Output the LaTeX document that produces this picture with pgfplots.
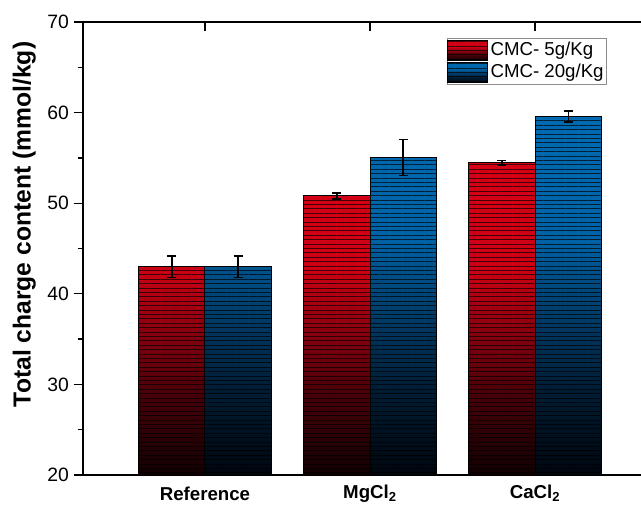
\documentclass[border=0pt]{standalone}
\usepackage{fontspec}
\setmainfont{Liberation Sans}
\usepackage{pgfplots}
\pgfplotsset{compat=1.18}
\usetikzlibrary{patterns.meta}
\definecolor{rb0}{RGB}{18,0,2}
\definecolor{rb1}{RGB}{70,0,8}
\definecolor{rb2}{RGB}{150,0,15}
\definecolor{rb3}{RGB}{205,0,20}
\definecolor{rtop}{RGB}{214,0,22}
\definecolor{bb0}{RGB}{0,6,14}
\definecolor{bb1}{RGB}{0,30,55}
\definecolor{bb2}{RGB}{0,68,118}
\definecolor{bb3}{RGB}{0,98,166}
\definecolor{btop}{RGB}{0,106,178}
\pgfdeclareverticalshading{redbar}{100bp}{color(0bp)=(rb0); color(25bp)=(rb0); color(37.5bp)=(rb1); color(50bp)=(rb2); color(58bp)=(rb3); color(75bp)=(rtop); color(100bp)=(rtop)}
\pgfdeclareverticalshading{bluebar}{100bp}{color(0bp)=(bb0); color(25bp)=(bb0); color(37.5bp)=(bb1); color(50bp)=(bb2); color(58bp)=(bb3); color(75bp)=(btop); color(100bp)=(btop)}
\pgfplotsset{
  stripes/.style={postaction={pattern={Lines[angle=0,distance=3.3pt,line width=0.55pt]}, pattern color=black, fill opacity=0.3}},
  myleg/.style={legend image code/.code={\draw[##1, line width=0.5pt] (0pt,-7.5pt) rectangle (30pt,7.5pt);}}
}
\begin{document}
\begin{tikzpicture}
\useasboundingbox (-62.25pt,-24.75pt) rectangle (418.5pt,356.25pt);
\begin{axis}[
  at={(0pt,0pt)}, anchor=south west,
  scale only axis, width=418.5pt, height=339.75pt,
  xmin=-0.739, xmax=2.642, ymin=20, ymax=70,
  axis y line*=left, axis x line*=box,
  axis line style={line width=1pt, black},
  ybar=0pt, bar width=0.403,
  xtick={0,1,2},
  xticklabels={\textbf{Reference}, \textbf{MgCl\textsubscript{2}}, \textbf{CaCl\textsubscript{2}}},
  xtick pos=both,
  xticklabel pos=lower,
  xticklabel style={anchor=center, yshift=-14pt, font=\fontsize{14}{16}\selectfont},
  ytick={20,30,40,50,60,70},
  minor ytick={25,35,45,55,65},
  xtick align=inside, ytick align=outside,
  major tick length=7pt, minor tick length=4pt,
  every tick/.style={black, line width=1pt},
  yticklabel style={font=\fontsize{14.5}{16}\selectfont},
  /pgf/number format/assume math mode=true,
  ylabel={\bfseries Total charge content (mmol/kg)},
  ylabel style={font=\fontsize{18.5}{20}\selectfont, at={(axis description cs:-0.105,0.553)}, anchor=center},
  legend style={at={(0.652,0.965)}, anchor=north west, draw=black!45, line width=0.6pt,
    font=\fontsize{14}{16}\selectfont, inner xsep=0pt, inner ysep=1pt, row sep=1pt},
  legend cell align=left,
  error bars/error bar style={line width=1.2pt, draw=black},
  error bars/error mark options={rotate=90, line width=1.2pt, mark size=3.4pt, draw=black},
]
\addplot[draw=black, line width=0.75pt, shading=redbar, shade, stripes, myleg,
  error bars/.cd, y dir=both, y explicit]
  coordinates {(0,43.0) +- (0,1.2) (1,50.8) +- (0,0.35) (2,54.45) +- (0,0.25)};
\addlegendentry{CMC- 5g/Kg}
\addplot[draw=black, line width=0.75pt, shading=bluebar, shade, stripes, myleg,
  error bars/.cd, y dir=both, y explicit]
  coordinates {(0,43.0) +- (0,1.2) (1,55.05) +- (0,2.0) (2,59.55) +- (0,0.6)};
\addlegendentry{CMC- 20g/Kg}
\end{axis}
\end{tikzpicture}
\end{document}
